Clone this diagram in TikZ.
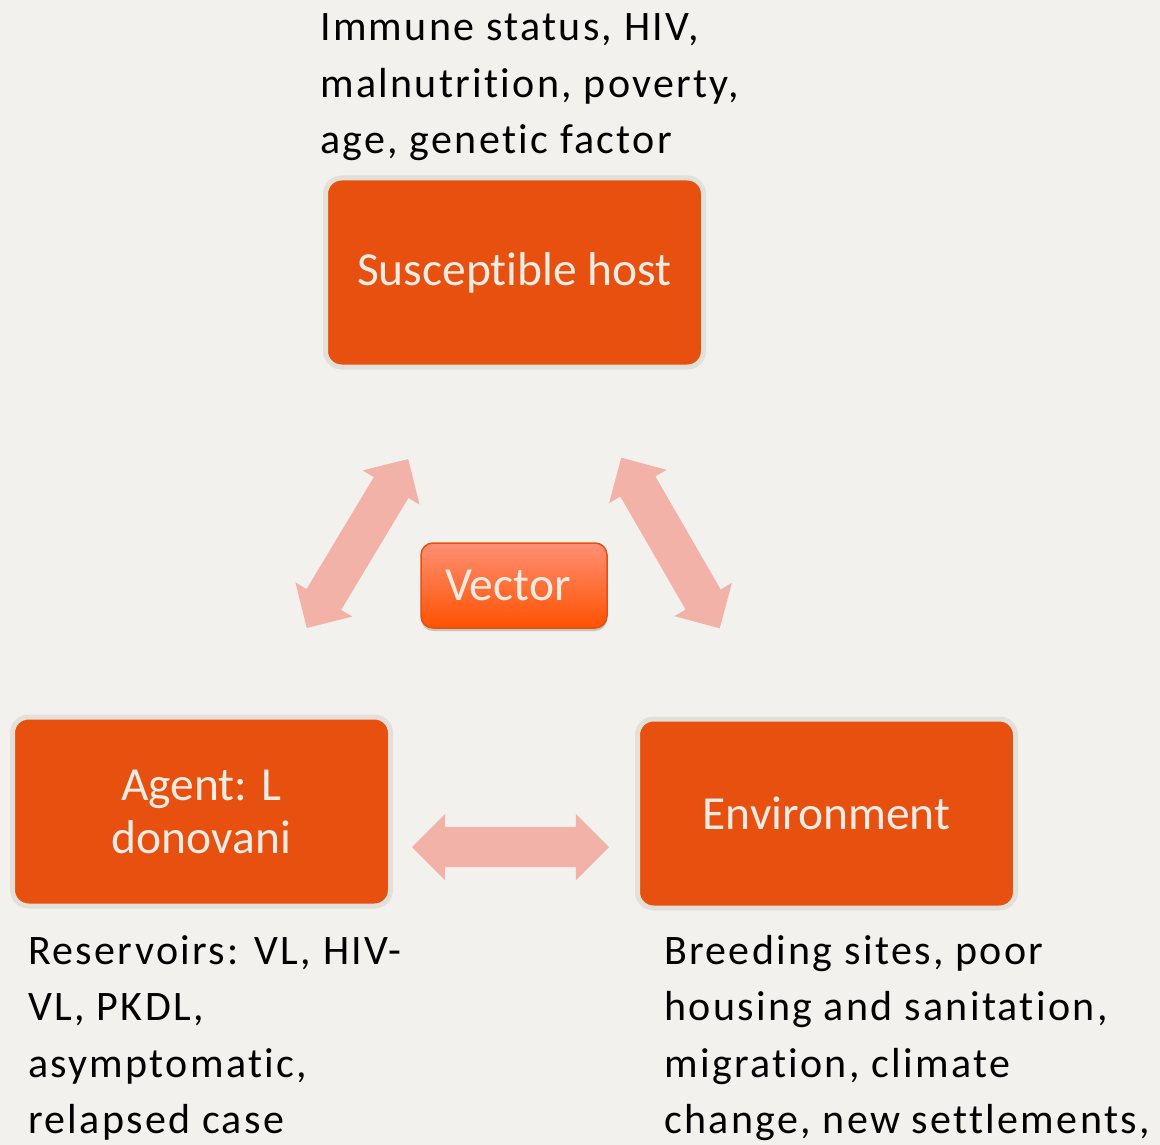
\documentclass[tikz,border=0pt]{standalone}
\usepackage{fontspec}
\setmainfont{Carlito}[Ligatures=NoCommon]
\newfontfamily\lblfont{Carlito}[Ligatures=NoCommon, LetterSpace=5.5]
\usetikzlibrary{shapes.arrows,shadows}
\definecolor{bg}{HTML}{F2F1ED}
\definecolor{boxor}{HTML}{E8500F}
\definecolor{boxrim}{HTML}{E2E0D8}
\definecolor{boxtxt}{HTML}{F0ECE4}
\definecolor{arrowpink}{HTML}{F2B2A8}
\definecolor{vectop}{HTML}{FF8F74}
\definecolor{vecbot}{HTML}{FF5200}
\definecolor{vecrim}{HTML}{E5500F}
\begin{document}
\begin{tikzpicture}[x=1pt,y=1pt,
  mainbox/.style={draw=boxrim, line width=5pt, fill=boxor, rounded corners=16pt,
    minimum width=378pt, minimum height=189pt, text=boxtxt,
    font=\fontsize{47.5}{53}\selectfont, align=center, inner sep=0pt},
  vecbox/.style={draw=vecrim, line width=1.5pt, top color=vectop, bottom color=vecbot,
    rounded corners=12pt, minimum width=186pt, minimum height=85pt, text=boxtxt,
    font=\fontsize{47.5}{53}\selectfont, inner sep=0pt,
    drop shadow={shadow xshift=0pt, shadow yshift=-3pt, fill=black, opacity=0.18}},
  dblarrow/.style={double arrow, fill=arrowpink, draw=none, minimum height=197pt,
    minimum width=66pt, double arrow head extend=13pt, inner xsep=0pt, inner ysep=20pt},
  lbl/.style={font=\lblfont\fontsize{42}{56.5}\selectfont, align=left, inner sep=0pt, text=black}
]
\fill[bg] (0,0) rectangle (1160,-1145);
\useasboundingbox (0,0) rectangle (1160,-1145);

\node[mainbox] (host) at (514.5,-272.5) {Susceptible host};
\node[mainbox] (agent) at (201.5,-811.5) {Agent: L\\donovani};
\node[mainbox] (env) at (826.5,-813.5) {Environment};
\node[vecbox] (vector) at (514,-585.5) {Vector\kern12pt};

\node[dblarrow, rotate=59] (ahost) at (357.5,-543.5) {};
\node[dblarrow, rotate=-60] (henv) at (670.5,-543) {};
\node[dblarrow] (ae) at (510.5,-847) {};

% anchor base west = baseline of the last line
\node[lbl, anchor=base west] (hostlbl) at (320,-153.5) {Immune status, HIV,\\malnutrition, poverty,\\age, genetic factor};
\node[lbl, anchor=base west] (agentlbl) at (28,-1133.5) {Reservoirs: VL, HIV-\\VL, PKDL,\\asymptomatic,\\relapsed case};
\node[lbl, anchor=base west] (envlbl) at (664,-1133.5) {Breeding sites, poor\\housing and sanitation,\\migration, climate\\change, new settlements,};
\end{tikzpicture}
\end{document}
